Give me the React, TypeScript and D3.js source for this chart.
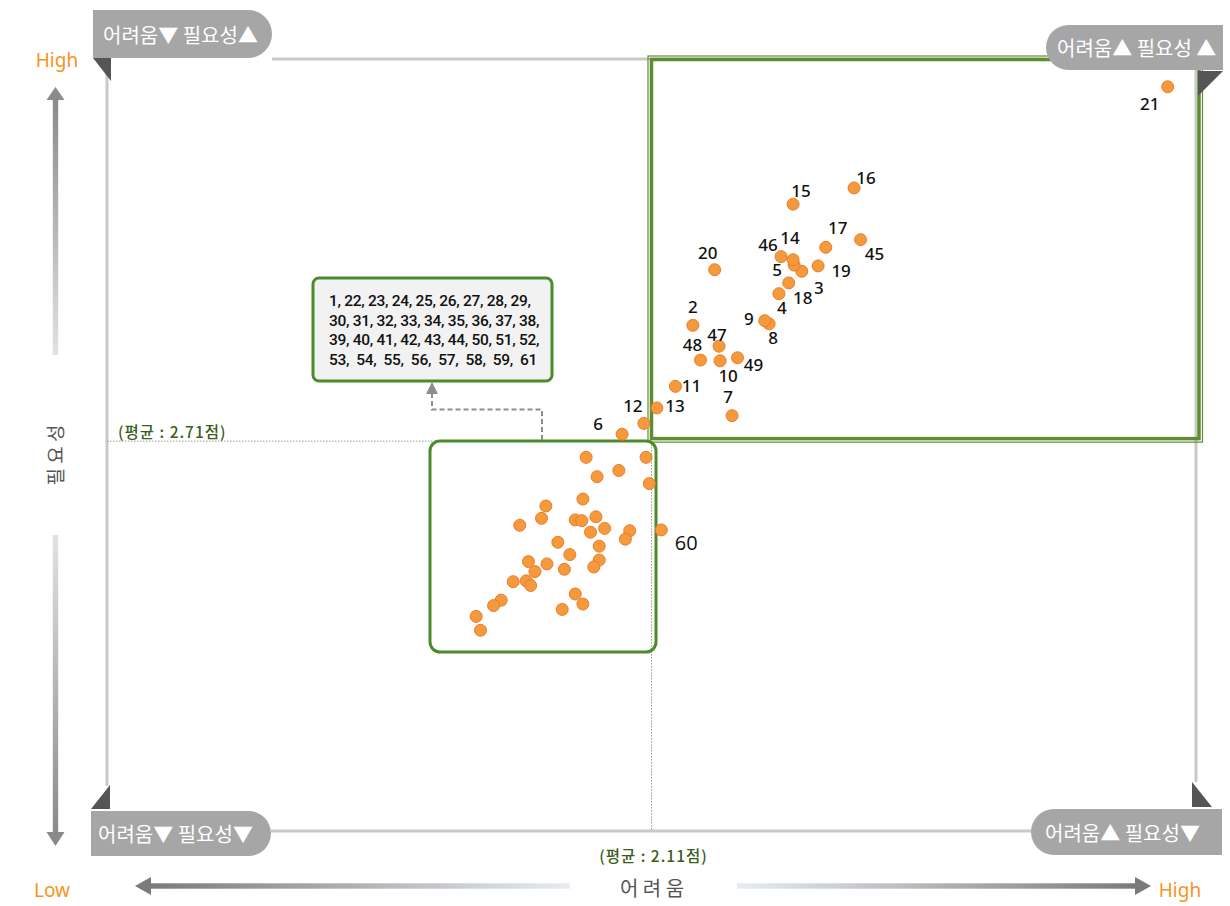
import React from "react";
import * as d3 from "d3";

// ---------- DATA ----------
const pointIds = [
  2, 3, 4, 5, 6, 7, 8, 9, 10, 11, 12, 13, 14, 15, 16, 17, 18, 19, 20, 21, 45, 46, 47, 48, 49, 60,
  1, 22, 23, 24, 25, 26, 27, 28, 29, 30, 31, 32, 33, 34, 35, 36, 37, 38, 39, 40, 41, 42, 43, 44,
  50, 51, 52, 53, 54, 55, 56, 57, 58, 59, 61,
];
const difficulty = [
  2.148, 2.248, 2.227, 2.241, 2.083, 2.184, 2.218, 2.214, 2.173, 2.132, 2.103, 2.115, 2.240, 2.240,
  2.296, 2.270, 2.236, 2.263, 2.168, 2.584, 2.302, 2.229, 2.172, 2.155, 2.189, 2.119,
  2.050, 2.105, 2.080, 2.060, 2.108, 2.047, 2.013, 2.009, 1.989, 2.040, 2.046, 2.059, 2.067, 2.054,
  2.090, 2.086, 2.024, 2.062, 2.035, 1.997, 2.014, 2.003, 2.030, 2.062, 2.057, 1.983, 1.995, 1.999,
  1.972, 1.965, 2.040, 2.047, 2.028, 1.949, 1.953,
];
const necessity = [
  2.860, 2.930, 2.901, 2.938, 2.719, 2.743, 2.862, 2.866, 2.814, 2.781, 2.733, 2.753, 2.945, 3.017,
  3.038, 2.961, 2.915, 2.937, 2.932, 3.169, 2.971, 2.949, 2.833, 2.815, 2.818, 2.595,
  2.689, 2.689, 2.672, 2.664, 2.655, 2.635, 2.626, 2.610, 2.601, 2.608, 2.607, 2.612, 2.597, 2.592,
  2.594, 2.583, 2.579, 2.574, 2.563, 2.554, 2.551, 2.541, 2.544, 2.556, 2.547, 2.528, 2.529, 2.523,
  2.504, 2.497, 2.512, 2.499, 2.492, 2.483, 2.465,
];
const labeledIds = [2, 3, 4, 5, 6, 7, 8, 9, 10, 11, 12, 13, 14, 15, 16, 17, 18, 19, 20, 21, 45, 46, 47, 48, 49, 60];
const clusterListLines = [
  "1, 22, 23, 24, 25, 26, 27, 28, 29,",
  "30, 31, 32, 33, 34, 35, 36, 37, 38,",
  "39, 40, 41, 42, 43, 44, 50, 51, 52,",
  "53,  54,  55,  56,  57,  58,  59,  61",
];
const avgDifficulty = 2.11;
const avgNecessity = 2.71;
const quadrantLabels = ["어려움▼ 필요성▲", "어려움▲ 필요성 ▲", "어려움▼ 필요성▼", "어려움▲ 필요성▼"];
const axisTitles = { x: "어 려 움", y: "필 요 성" };
const endLabels = { high: "High", low: "Low" };

// label offsets (layout only)
const labelOffset: Record<number, [number, number]> = {
  2: [0, -19], 3: [17, 16], 4: [3, 14], 5: [-17, 4], 6: [-24, -11], 7: [-4, -19], 8: [4, 14],
  9: [-16, -2], 10: [8, 15], 11: [16, -1], 12: [-11, -18], 13: [18, -2], 14: [-3, -22],
  15: [8, -14], 16: [12, -10], 17: [12, -20], 18: [14, 15], 19: [23, 5], 20: [-7, -17],
  21: [-18, 17], 45: [14, 14], 46: [-13, -12], 47: [-2, -12], 48: [-8, -16], 49: [16, 7],
  60: [25, 13],
};

const FONT = "'Noto Sans CJK KR', 'Noto Sans', sans-serif";
const ORANGE = "#f7941d";
const GREEN = "#4d8a2b";
const GRAYBOX = "#a6a6a6";
const LINE = "#c9c9c9";

export default function App() {
  const x = d3.scaleLinear().domain([1.61, 2.61]).range([107, 1196]);
  const y = d3.scaleLinear().domain([2.205, 3.205]).range([831, 59]);
  const ax = x(avgDifficulty);
  const ay = y(avgNecessity);

  const points = pointIds.map((id, i) => ({ id, dx: difficulty[i], ny: necessity[i] }));

  return (
    <svg
      width={1230}
      height={906}
      style={{ position: "absolute", left: 0, top: 0, background: "#fff" }}
      fontFamily={FONT}
    >
      <defs>
        <linearGradient id="gUp" x1="0" y1="0" x2="0" y2="1">
          <stop offset="0" stopColor="#8a8a8a" />
          <stop offset="1" stopColor="#e2e2e2" />
        </linearGradient>
        <linearGradient id="gDown" x1="0" y1="0" x2="0" y2="1">
          <stop offset="0" stopColor="#e2e2e2" />
          <stop offset="1" stopColor="#8a8a8a" />
        </linearGradient>
        <linearGradient id="gLeft" x1="0" y1="0" x2="1" y2="0">
          <stop offset="0" stopColor="#7a7a7a" />
          <stop offset="1" stopColor="#e6ecf2" />
        </linearGradient>
        <linearGradient id="gRight" x1="0" y1="0" x2="1" y2="0">
          <stop offset="0" stopColor="#e6ecf2" />
          <stop offset="1" stopColor="#7a7a7a" />
        </linearGradient>
      </defs>

      {/* frame lines */}
      <line x1={107} x2={107} y1={58} y2={786} stroke={LINE} strokeWidth={3} />
      <line x1={272} x2={1046} y1={59} y2={59} stroke={LINE} strokeWidth={3} />
      <line x1={1196} x2={1196} y1={70} y2={782} stroke={LINE} strokeWidth={3} />
      <line x1={271} x2={1031} y1={831} y2={831} stroke={LINE} strokeWidth={3} />

      {/* average dotted lines */}
      <line x1={107} x2={ax} y1={ay} y2={ay} stroke="#999" strokeWidth={1} strokeDasharray="1.5,1.5" />
      <line x1={ax} x2={ax} y1={ay} y2={831} stroke="#999" strokeWidth={1} strokeDasharray="1.5,1.5" />

      {/* top-right highlight box */}
      <rect x={ax - 3.5} y={56} width={1202.5 - (ax - 3.5)} height={ay + 1 - 56} fill="none" stroke="#5f8c30" strokeWidth={1.2} />
      <rect x={ax} y={59.5} width={1199 - ax} height={ay - 2.5 - 59.5} fill="none" stroke="#5f8c30" strokeWidth={3.5} />

      {/* cluster box */}
      <rect x={430} y={441} width={226} height={211} rx={10} fill="none" stroke={GREEN} strokeWidth={3} />

      {/* dashed connector */}
      <path d="M542,440 V409.5 H432 V392" fill="none" stroke="#8c8c8c" strokeWidth={2} strokeDasharray="5,3" />
      <path d="M426,394 L438,394 L432,382 Z" fill="#8c8c8c" />

      {/* annotation box */}
      <rect x={313} y={278} width={239} height={103} rx={6} fill="#f2f2f2" stroke={GREEN} strokeWidth={3} />
      <text
        x={329}
        y={306}
        fontSize={15.5}
        fontWeight={500}
        fill="#111"
        letterSpacing={-0.3}
        fontFamily="Roboto, 'Liberation Sans', sans-serif"
        style={{ whiteSpace: "pre" }}
      >
        {clusterListLines.map((t, i) => (
          <tspan key={i} x={329} dy={i === 0 ? 0 : 19.5}>
            {t}
          </tspan>
        ))}
      </text>

      {/* points */}
      {points.map((p) => (
        <circle key={p.id} cx={x(p.dx)} cy={y(p.ny)} r={6} fill="#f59a3c" stroke="#ec7c2a" strokeWidth={1} />
      ))}
      {points
        .filter((p) => labeledIds.includes(p.id))
        .map((p) => {
          const [ox, oy] = labelOffset[p.id] || [0, -15];
          const is60 = p.id === 60;
          return (
            <text
              key={"l" + p.id}
              x={x(p.dx) + ox}
              y={y(p.ny) + oy}
              textAnchor="middle"
              dominantBaseline="central"
              fontSize={is60 ? 20 : 17}
              fontWeight={is60 ? 400 : 500}
              fill="#111"
              fontFamily={is60 ? "'Open Sans', sans-serif" : "'Noto Sans', sans-serif"}
            >
              {p.id}
            </text>
          );
        })}

      {/* average labels */}
      <text x={118} y={438} fontSize={15.5} fill="#3a5d1c" fontWeight={500} letterSpacing={1}>
        (평균 : {avgNecessity.toFixed(2)}점)
      </text>
      <text x={ax + 2} y={862} textAnchor="middle" fontSize={15.5} fill="#3a5d1c" fontWeight={500} letterSpacing={1}>
        (평균 : {avgDifficulty.toFixed(2)}점)
      </text>

      {/* quadrant corner labels */}
      <path d="M93,10 H248 A24,24 0 0 1 248,58 H93 Z" fill={GRAYBOX} />
      <path d="M93,58 L111,58 L111,81 Z" fill="#555" />
      <text x={103} y={34} dominantBaseline="central" fontSize={20} fill="#fff">{quadrantLabels[0]}</text>

      <path d="M1223,25 V70 H1068.5 A22.5,22.5 0 0 1 1068.5,25 Z" fill={GRAYBOX} />
      <path d="M1198,71 L1223,71 L1198,96 Z" fill="#555" />
      <text x={1057} y={47.5} dominantBaseline="central" fontSize={20} fill="#fff">{quadrantLabels[1]}</text>

      <path d="M91,811 H248.5 A22.5,22.5 0 0 1 248.5,856 H91 Z" fill={GRAYBOX} />
      <path d="M91,809 L110,809 L110,785 Z" fill="#555" />
      <text x={98} y={833.5} dominantBaseline="central" fontSize={20} fill="#fff">{quadrantLabels[2]}</text>

      <path d="M1222,809 V855 H1054 A23,23 0 0 1 1054,809 Z" fill={GRAYBOX} />
      <path d="M1192,807 L1212,807 L1192,782 Z" fill="#555" />
      <text x={1045} y={832} dominantBaseline="central" fontSize={20} fill="#fff">{quadrantLabels[3]}</text>

      {/* vertical axis arrows */}
      <rect x={52.8} y={98} width={5.4} height={257} fill="url(#gUp)" />
      <path d="M46.5,100 L64.5,100 L55.5,87 Z" fill="#8a8a8a" />
      <rect x={52.8} y={535} width={5.4} height={298} fill="url(#gDown)" />
      <path d="M46.5,832 L64.5,832 L55.5,846 Z" fill="#8a8a8a" />
      <text
        x={54}
        y={455}
        transform="rotate(-90 54 455)"
        textAnchor="middle"
        dominantBaseline="central"
        fontSize={19}
        fill="#555"
      >
        {axisTitles.y}
      </text>

      {/* horizontal axis arrows */}
      <rect x={150} y={883.3} width={420} height={5.4} fill="url(#gLeft)" />
      <path d="M151,877 L151,895 L135,886 Z" fill="#7a7a7a" />
      <rect x={737} y={883.3} width={400} height={5.4} fill="url(#gRight)" />
      <path d="M1135,877 L1135,895 L1151,886 Z" fill="#7a7a7a" />
      <text x={652} y={887} textAnchor="middle" dominantBaseline="central" fontSize={20} fill="#555">
        {axisTitles.x}
      </text>

      {/* High / Low */}
      <text x={57} y={60} textAnchor="middle" dominantBaseline="central" fontSize={19} fill={ORANGE} fontFamily="'Noto Sans', sans-serif">
        {endLabels.high}
      </text>
      <text x={52} y={890} textAnchor="middle" dominantBaseline="central" fontSize={19} fill={ORANGE} fontFamily="'Noto Sans', sans-serif">
        {endLabels.low}
      </text>
      <text x={1180} y={890} textAnchor="middle" dominantBaseline="central" fontSize={19} fill={ORANGE} fontFamily="'Noto Sans', sans-serif">
        {endLabels.high}
      </text>
    </svg>
  );
}
